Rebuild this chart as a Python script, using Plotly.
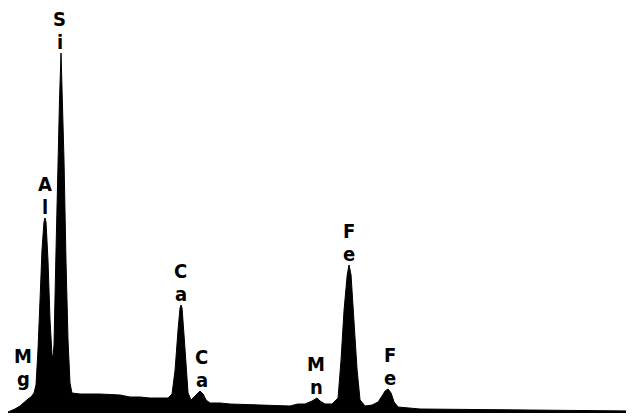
import plotly.graph_objects as go

# EDS spectrum outline (energy in keV, counts)
energy_kev = [0.88, 0.995, 1.076, 1.157, 1.205, 1.254, 1.303, 1.335, 1.367, 1.400,
              1.432, 1.464, 1.481, 1.497, 1.529, 1.562, 1.594, 1.610, 1.626, 1.659,
              1.691, 1.715, 1.740, 1.764, 1.788, 1.820, 1.853, 1.885, 1.917, 2.047,
              2.371, 2.694, 2.856, 3.018, 3.180, 3.341, 3.471, 3.536, 3.585, 3.633,
              3.665, 3.682, 3.698, 3.730, 3.763, 3.795, 3.843, 3.892, 3.941, 3.989,
              4.038, 4.086, 4.151, 4.313, 4.474, 4.960, 5.445, 5.570, 5.688, 5.801,
              5.882, 5.931, 6.010, 6.125, 6.222, 6.270, 6.319, 6.370, 6.400, 6.432,
              6.481, 6.530, 6.578, 6.660, 6.772, 6.869, 6.934, 6.983, 7.031, 7.080,
              7.128, 7.193, 7.549, 8.840, 11.01]
counts = [10, 40, 70, 120, 140, 160, 200, 280, 630, 1130,
          1630, 1910, 1950, 1910, 1530, 930, 580, 560, 680, 1630,
          2630, 3130, 3600, 3130, 2530, 1530, 730, 300, 200, 190,
          190, 180, 160, 160, 150, 150, 150, 190, 430, 830,
          1050, 1080, 1050, 780, 430, 200, 130, 160, 200, 220,
          190, 130, 100, 100, 90, 80, 70, 90, 90, 120,
          150, 120, 90, 90, 150, 530, 1030, 1380, 1480, 1380,
          930, 430, 130, 70, 80, 110, 170, 220, 240, 200,
          110, 60, 40, 30, 20]

# Peak labels
label_first = ["M", "A", "S", "C", "C", "M", "F", "F"]
label_second = ["g", "l", "i", "a", "a", "n", "e", "e"]
label_energy = [1.13, 1.48, 1.72, 3.68, 4.02, 5.87, 6.40, 7.07]
label_counts = [230, 1950, 3600, 1080, 220, 150, 1480, 240]

fig = go.Figure()
fig.add_trace(go.Scatter(
    x=energy_kev, y=counts, mode="lines",
    line=dict(color="black", width=1),
    fill="tozeroy", fillcolor="black",
    hoverinfo="skip", showlegend=False,
))

font = dict(family="DejaVu Sans Condensed, Liberation Sans Narrow, sans-serif",
            size=20, color="black")
for f, s, e, c in zip(label_first, label_second, label_energy, label_counts):
    fig.add_annotation(x=e, y=c, text="<b>%s</b>" % f, showarrow=False,
                       yanchor="middle", xanchor="center", yshift=34, font=font,
                       height=16, borderpad=0)
    fig.add_annotation(x=e, y=c, text="<b>%s</b>" % s, showarrow=False,
                       yanchor="middle", xanchor="center", yshift=11, font=font,
                       height=24, borderpad=0)

# the page body has an 8px margin, so the figure is sized to fill the rest
fig.update_layout(
    width=626, height=409,
    margin=dict(l=0, r=0, t=0, b=4),
    paper_bgcolor="white", plot_bgcolor="white",
    xaxis=dict(range=[0.882, 11.01], visible=False),
    yaxis=dict(range=[0, 4050], visible=False),
)
fig.write_html("out.html")
